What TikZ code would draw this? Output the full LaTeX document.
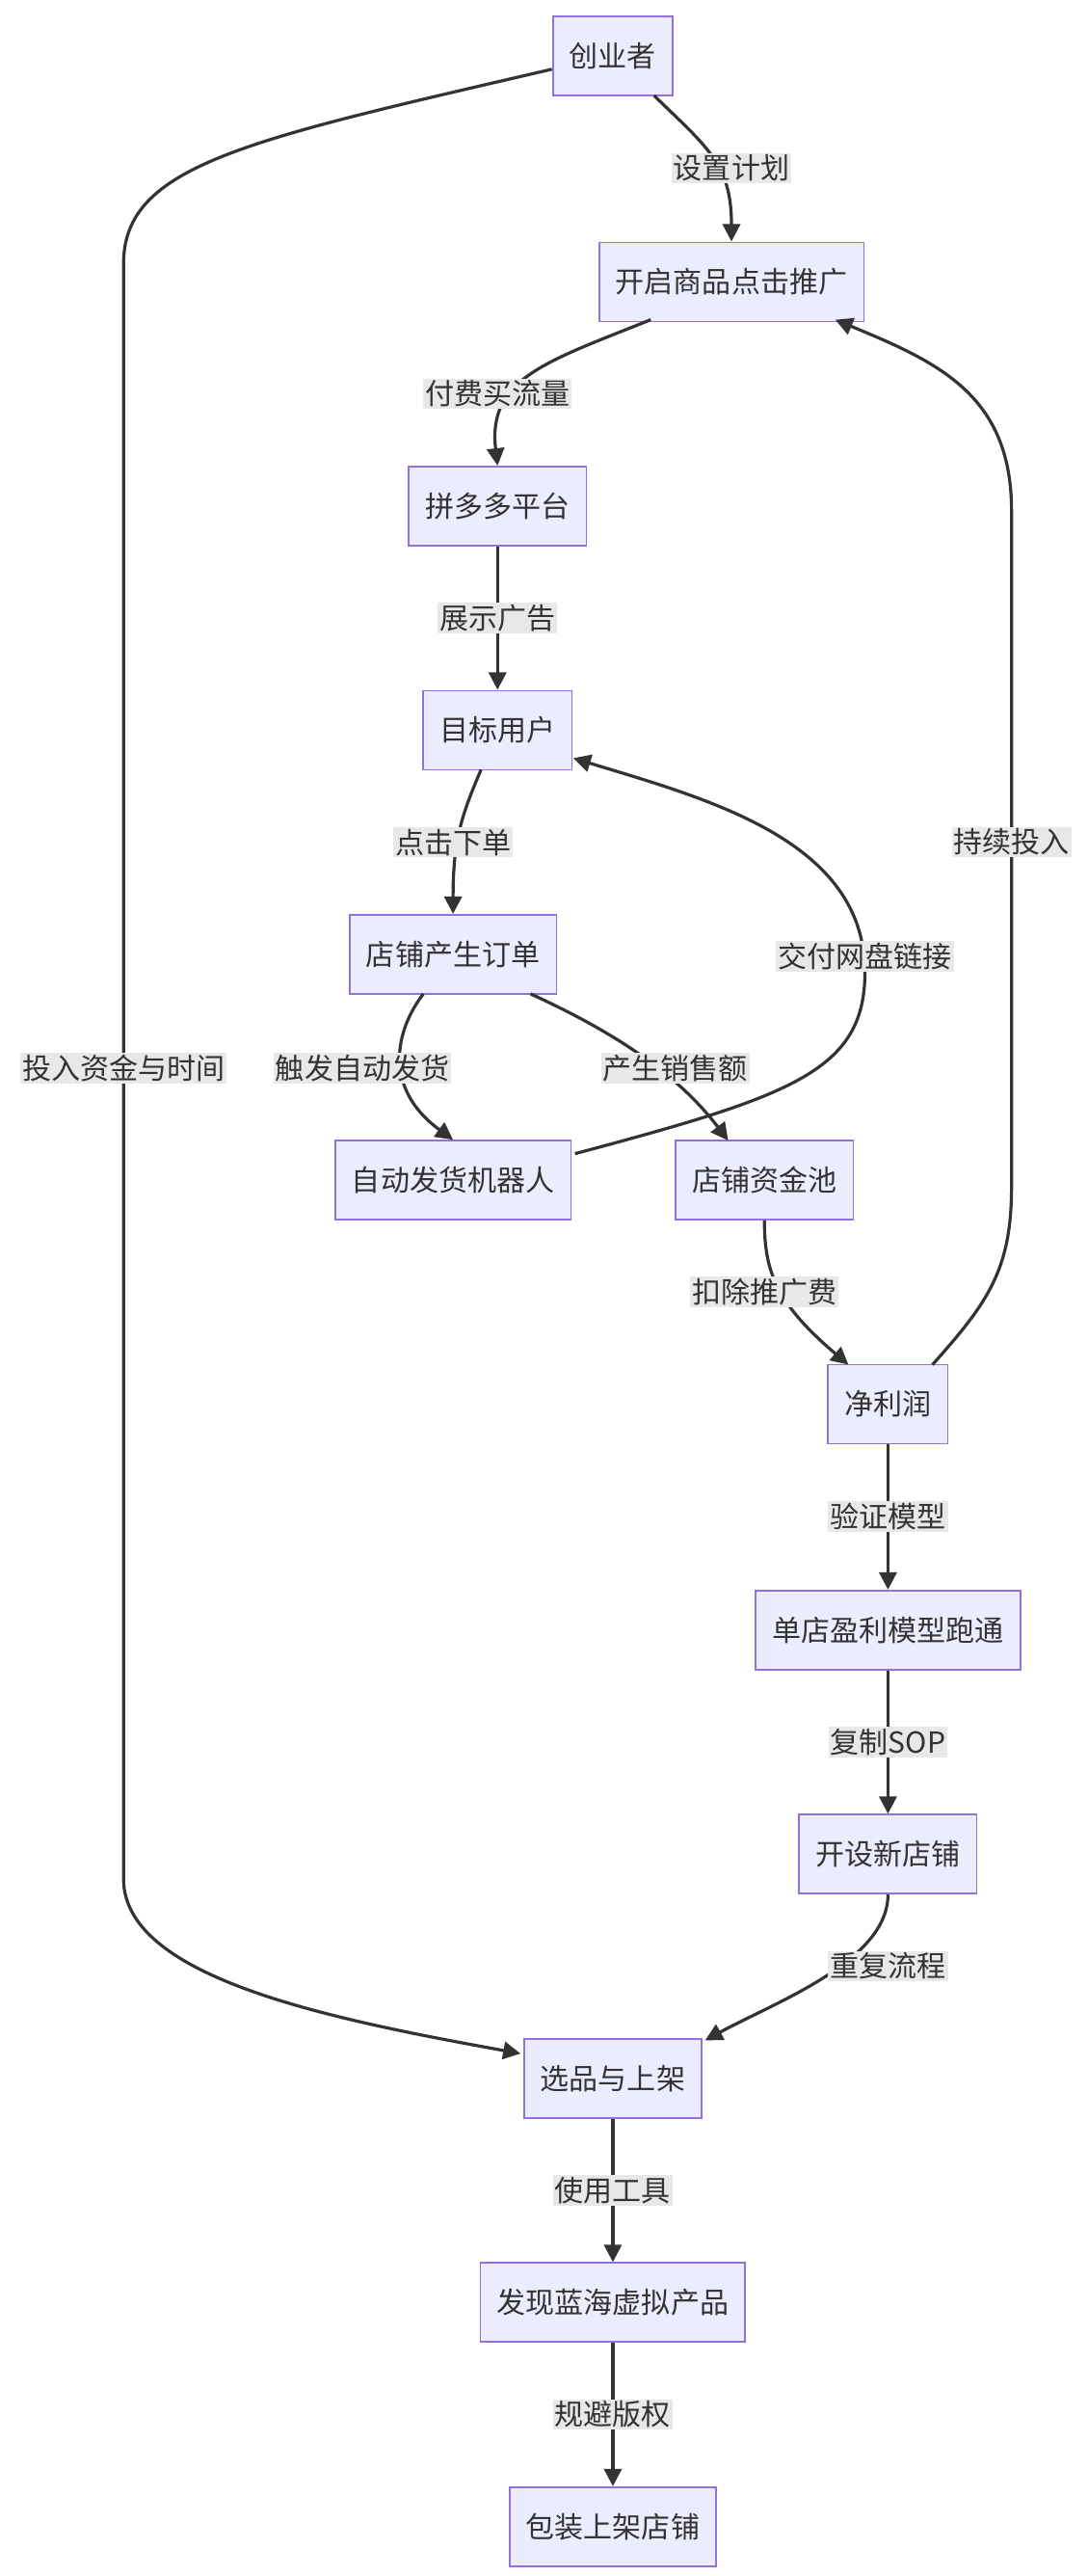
\documentclass[tikz,border=0pt]{standalone}
\usepackage{fontspec}
\setmainfont{Noto Sans CJK SC}
\usetikzlibrary{arrows.meta}
\definecolor{nfill}{HTML}{ECECFF}
\definecolor{nborder}{HTML}{9370DB}
\definecolor{edge}{HTML}{333333}
\definecolor{lbg}{HTML}{E8E8E8}
\begin{document}
\begin{tikzpicture}[x=0.03cm,y=-0.03cm,
 box/.style={draw=nborder,fill=nfill,line width=0.8pt,minimum height=1.44cm,inner xsep=0.3cm,font=\fontsize{15}{18}\selectfont,text=edge},
 e/.style={draw=edge,line width=1.6pt,-{Triangle[length=9pt,width=9pt]}},
 lb/.style={fill=lbg,inner sep=1pt,font=\fontsize{15}{18}\selectfont,text=edge}]
\useasboundingbox (0,0) rectangle (660,1563);
\node[box] (a) at (372,34) {创业者};
\node[box] (b) at (444,171) {开启商品点击推广};
\node[box] (c) at (302,307) {拼多多平台};
\node[box] (d) at (302,443) {目标用户};
\node[box] (f) at (275,579) {店铺产生订单};
\node[box] (g) at (275,716) {自动发货机器人};
\node[box] (h) at (464,716) {店铺资金池};
\node[box] (i) at (539,852) {净利润};
\node[box] (j) at (539,989) {单店盈利模型跑通};
\node[box] (k) at (539,1125) {开设新店铺};
\node[box] (l) at (372,1261) {选品与上架};
\node[box] (m) at (372,1397) {发现蓝海虚拟产品};
\node[box] (n) at (372,1533) {包装上架店铺};
\coordinate (a1) at (397,58);
\coordinate (b1) at (395,194);
\coordinate (d1) at (292,467);
\coordinate (d2) at (348,460);
\coordinate (f1) at (257,603);
\coordinate (f2) at (322,603);
\coordinate (g1) at (349,700);
\coordinate (h1) at (442,692);
\coordinate (i1) at (515,828);
\coordinate (i2) at (566,828);
\coordinate (b2) at (507,194);
\coordinate (l1) at (428,1238);
\coordinate (a2) at (335,42);
\coordinate (l2) at (316,1246);
\draw[e] (a1) .. controls (430,90) and (444,100) .. (b.north);
\node[lb] at (444,102) {设置计划};
\draw[e] (b1) .. controls (330,220) and (296,230) .. (c.north);
\node[lb] at (302,239) {付费买流量};
\draw[e] (c) -- (d);
\node[lb] at (302,375) {展示广告};
\draw[e] (d1) .. controls (280,495) and (275,510) .. (f.north);
\node[lb] at (275,511) {点击下单};
\draw[e] (f1) .. controls (240,625) and (232,660) .. (g.north);
\node[lb] at (220,648) {触发自动发货};
\draw[e] (f2) .. controls (370,625) and (410,650) .. (h1);
\node[lb] at (410,648) {产生销售额};
\draw[e] (g1) .. controls (480,665) and (525,650) .. (525,590) .. controls (525,510) and (430,485) .. (d2);
\node[lb] at (525,580) {交付网盘链接};
\draw[e] (h.south) .. controls (464,770) and (470,790) .. (i1);
\node[lb] at (464,784) {扣除推广费};
\draw[e] (i2) .. controls (600,790) and (614,770) .. (614,720) -- (614,310) .. controls (614,240) and (570,220) .. (b2);
\node[lb] at (614,511) {持续投入};
\draw[e] (i) -- (j);
\node[lb] at (539,920) {验证模型};
\draw[e] (j) -- (k);
\node[lb] at (539,1057) {复制SOP};
\draw[e] (k.south) .. controls (539,1190) and (470,1215) .. (l1);
\node[lb] at (539,1193) {重复流程};
\draw[e] (a2) .. controls (150,85) and (75,100) .. (75,160) -- (75,1140) .. controls (75,1200) and (200,1225) .. (l2);
\node[lb] at (75,648) {投入资金与时间};
\draw[e] (l) -- (m);
\node[lb] at (372,1329) {使用工具};
\draw[e] (m) -- (n);
\node[lb] at (372,1465) {规避版权};
\end{tikzpicture}
\end{document}
